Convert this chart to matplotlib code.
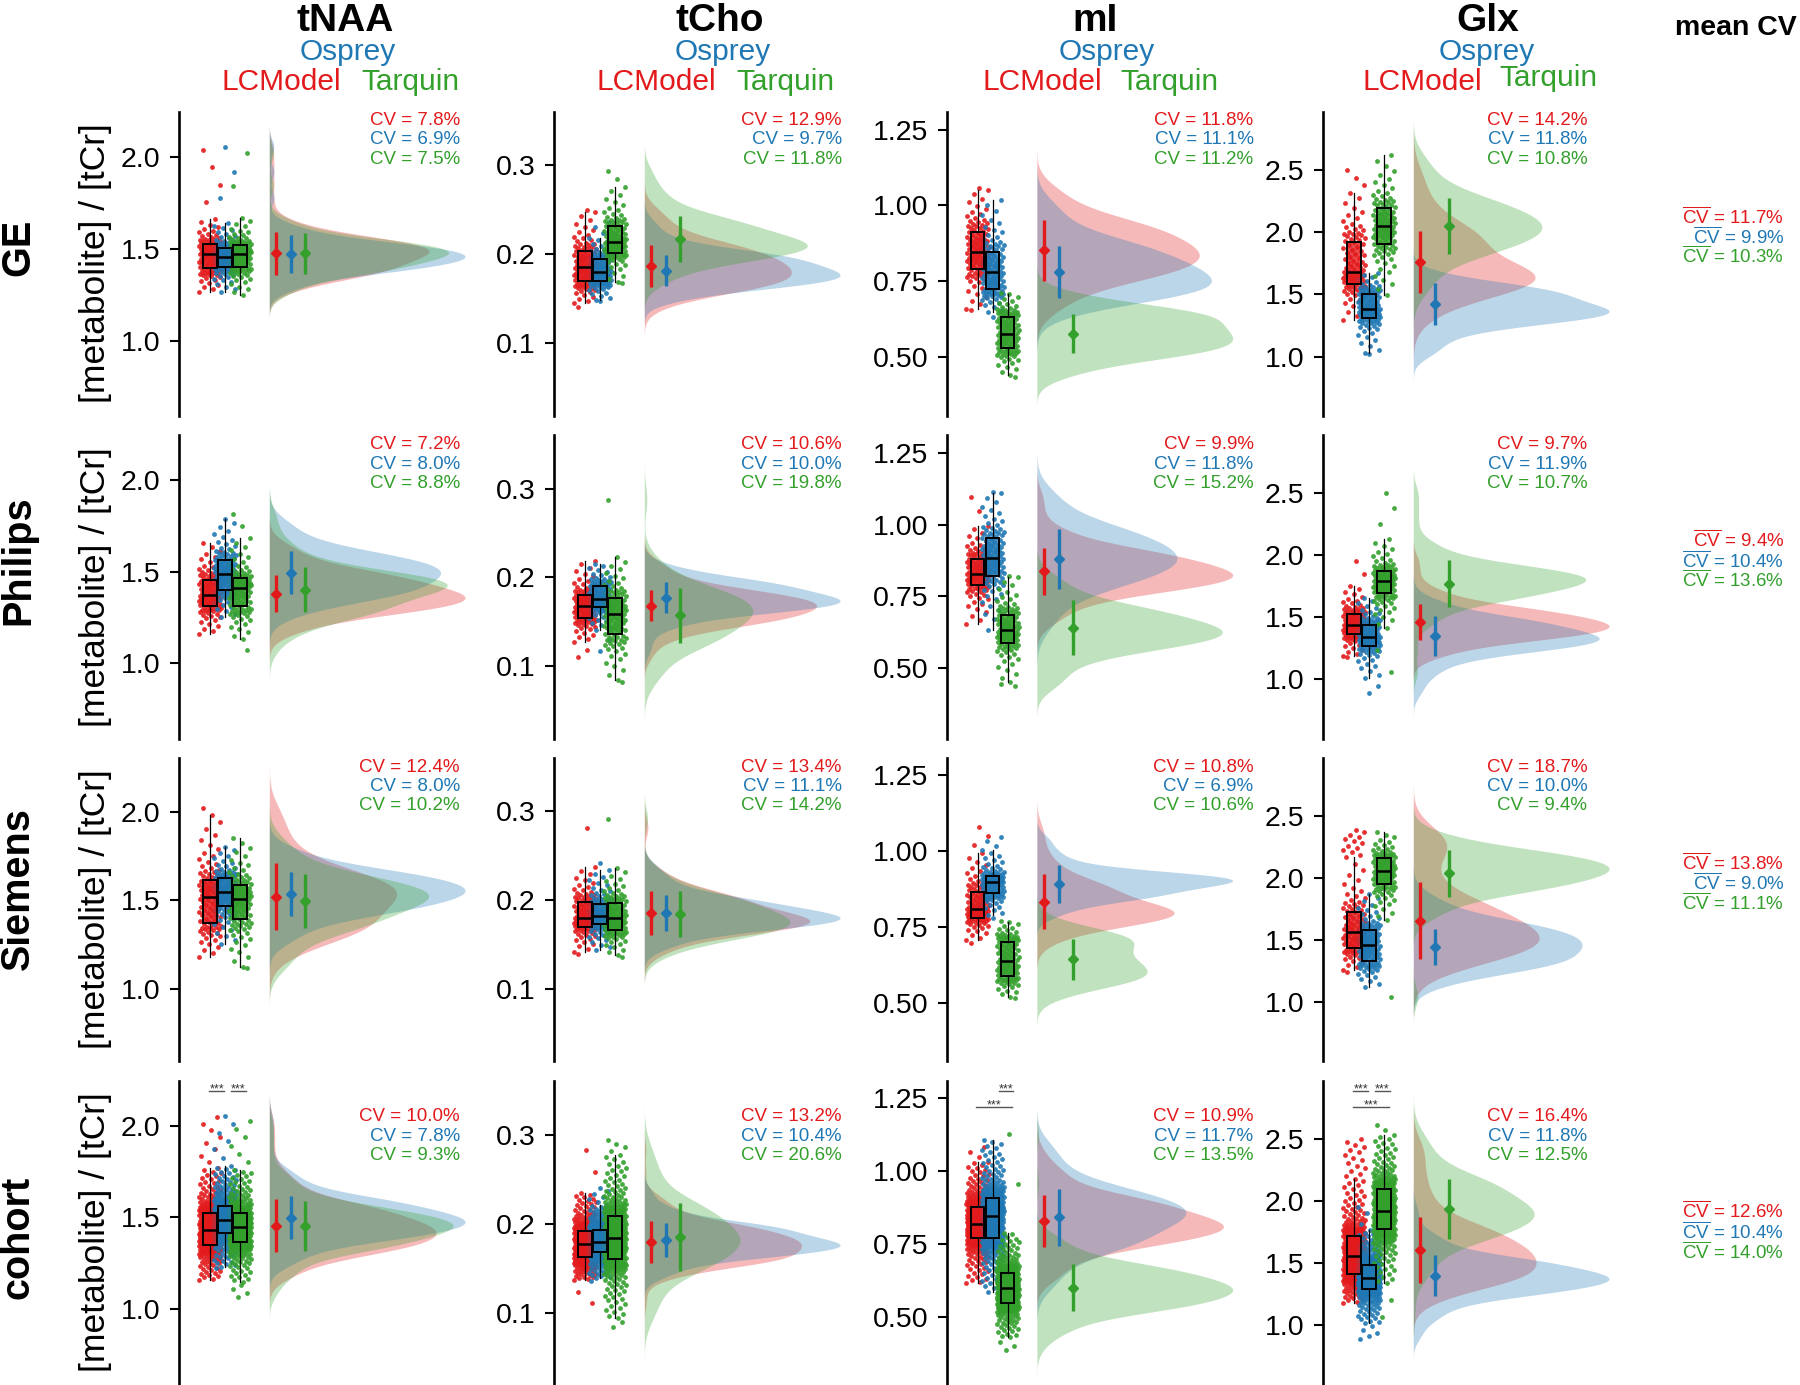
import numpy as np
import matplotlib
matplotlib.use('Agg')
import matplotlib.pyplot as plt

plt.rcParams['font.family'] = ['Liberation Sans', 'DejaVu Sans']
plt.rcParams['mathtext.fontset'] = 'custom'
plt.rcParams['mathtext.rm'] = 'Liberation Sans'
plt.rcParams['mathtext.it'] = 'Liberation Sans:italic'
plt.rcParams['mathtext.bf'] = 'Liberation Sans:bold'

# ---------------- data ----------------
METABOLITES = ['tNAA', 'tCho', 'mI', 'Glx']
VENDORS = ['GE', 'Philips', 'Siemens', 'cohort']
METHODS = ['LCModel', 'Osprey', 'Tarquin']
COLORS = ['#E31A1C', '#1F78B4', '#33A02C']
N_SUBJ = [100, 100, 100, 300]

# all arrays: [metabolite][vendor][method]
CV = [
    [[7.8, 6.9, 7.5], [7.2, 8.0, 8.8], [12.4, 8.0, 10.2], [10.0, 7.8, 9.3]],
    [[12.9, 9.7, 11.8], [10.6, 10.0, 19.8], [13.4, 11.1, 14.2], [13.2, 10.4, 20.6]],
    [[11.8, 11.1, 11.2], [9.9, 11.8, 15.2], [10.8, 6.9, 10.6], [10.9, 11.7, 13.5]],
    [[14.2, 11.8, 10.8], [9.7, 11.9, 10.7], [18.7, 10.0, 9.4], [16.4, 11.8, 12.5]],
]
MEAN = [
    [[1.477, 1.473, 1.477], [1.380, 1.495, 1.402], [1.521, 1.536, 1.497], [1.455, 1.498, 1.455]],
    [[0.186, 0.181, 0.2165], [0.168, 0.177, 0.157], [0.185, 0.185, 0.184], [0.1793, 0.182, 0.185]],
    [[0.852, 0.780, 0.576], [0.837, 0.880, 0.640], [0.833, 0.891, 0.643], [0.828, 0.841, 0.600]],
    [[1.757, 1.421, 2.050], [1.460, 1.345, 1.770], [1.653, 1.443, 2.035], [1.605, 1.398, 1.936]],
]
MEDIAN = [
    [[1.473, 1.458, 1.471], [1.375, 1.489, 1.411], [1.518, 1.549, 1.508], [1.431, 1.486, 1.449]],
    [[0.185, 0.180, 0.2127], [0.1677, 0.176, 0.1583], [0.180, 0.182, 0.1793], [0.1774, 0.1793, 0.1839]],
    [[0.846, 0.780, 0.576], [0.829, 0.884, 0.630], [0.808, 0.897, 0.638], [0.818, 0.846, 0.597]],
    [[1.684, 1.383, 2.047], [1.440, 1.340, 1.790], [1.564, 1.457, 2.056], [1.559, 1.382, 1.920]],
]
Q1 = [
    [[1.395, 1.404, 1.404], [1.311, 1.402, 1.311], [1.375, 1.469, 1.396], [1.350, 1.417, 1.368]],
    [[0.1688, 0.169, 0.2008], [0.1541, 0.1665, 0.1354], [0.170, 0.1725, 0.166], [0.1625, 0.1688, 0.1606]],
    [[0.789, 0.724, 0.527], [0.788, 0.821, 0.587], [0.780, 0.860, 0.588], [0.769, 0.771, 0.548]],
    [[1.585, 1.308, 1.907], [1.364, 1.265, 1.690], [1.435, 1.328, 1.946], [1.412, 1.290, 1.772]],
]
Q3 = [
    [[1.527, 1.509, 1.522], [1.456, 1.565, 1.466], [1.615, 1.625, 1.587], [1.522, 1.564, 1.522]],
    [[0.2026, 0.194, 0.2307], [0.1797, 0.1898, 0.1767], [0.198, 0.1954, 0.1968], [0.1924, 0.1932, 0.2093]],
    [[0.912, 0.846, 0.631], [0.881, 0.952, 0.684], [0.866, 0.917, 0.701], [0.877, 0.908, 0.649]],
    [[1.918, 1.502, 2.195], [1.528, 1.440, 1.870], [1.726, 1.578, 2.156], [1.720, 1.484, 2.095]],
]
WHISK_LO = [
    [[1.268, 1.268, 1.250], [1.158, 1.252, 1.130], [1.183, 1.255, 1.127], [1.159, 1.232, 1.150]],
    [[0.1444, 0.148, 0.168], [0.127, 0.1403, 0.084], [0.1417, 0.1436, 0.138], [0.137, 0.1388, 0.0938]],
    [[0.658, 0.647, 0.439], [0.652, 0.630, 0.450], [0.706, 0.789, 0.520], [0.614, 0.585, 0.429]],
    [[1.295, 1.026, 1.496], [1.184, 1.010, 1.413], [1.255, 1.121, 1.659], [1.180, 1.014, 1.337]],
]
WHISK_HI = [
    [[1.663, 1.643, 1.667], [1.656, 1.788, 1.683], [1.981, 1.803, 1.850], [1.767, 1.780, 1.758]],
    [[0.247, 0.2177, 0.275], [0.219, 0.2154, 0.2228], [0.2367, 0.2337, 0.2355], [0.2345, 0.2214, 0.2777]],
    [[1.052, 1.019, 0.707], [0.996, 1.111, 0.816], [0.992, 1.003, 0.767], [1.032, 1.106, 0.788]],
    [[2.316, 1.671, 2.617], [1.749, 1.655, 2.125], [2.169, 1.868, 2.371], [2.178, 1.766, 2.533]],
]
PT_MIN = [
    [[1.268, 1.268, 1.245], [1.155, 1.250, 1.070], [1.180, 1.255, 1.118], [1.159, 1.225, 1.068]],
    [[0.1406, 0.147, 0.167], [0.1096, 0.117, 0.082], [0.1386, 0.1436, 0.136], [0.1107, 0.136, 0.0843]],
    [[0.653, 0.631, 0.434], [0.652, 0.630, 0.435], [0.698, 0.780, 0.515], [0.614, 0.585, 0.385]],
    [[1.295, 1.020, 1.496], [1.180, 0.890, 1.060], [1.240, 1.121, 1.040], [1.180, 0.885, 1.062]],
]
PT_MAX = [
    [[2.040, 2.056, 2.023], [1.656, 1.800, 1.814], [2.019, 1.803, 1.855], [2.045, 2.052, 2.025]],
    [[0.249, 0.236, 0.2934], [0.219, 0.2154, 0.2878], [0.2812, 0.241, 0.291], [0.2833, 0.2402, 0.2946]],
    [[1.057, 1.020, 0.710], [1.098, 1.115, 0.820], [1.078, 1.047, 0.770], [1.081, 1.106, 1.126]],
    [[2.499, 1.671, 2.617], [1.950, 1.655, 2.500], [2.384, 1.868, 2.371], [2.498, 1.954, 2.613]],
]
# estimated numbers of points beyond the whiskers
N_OUT_LO = [
    [[0, 0, 0], [0, 0, 1], [0, 0, 1], [0, 1, 4]],
    [[1, 1, 1], [2, 2, 1], [1, 0, 1], [2, 1, 2]],
    [[1, 1, 1], [0, 0, 2], [1, 1, 1], [0, 0, 3]],
    [[0, 1, 0], [1, 2, 2], [1, 0, 1], [0, 5, 2]],
]
N_OUT_HI = [
    [[4, 3, 2], [0, 0, 2], [1, 0, 0], [8, 6, 6]],
    [[1, 3, 2], [0, 0, 1], [1, 1, 1], [2, 6, 4]],
    [[1, 0, 1], [2, 1, 1], [3, 3, 1], [3, 0, 2]],
    [[3, 0, 0], [2, 0, 3], [12, 0, 0], [15, 4, 2]],
]
MEAN_CV = [[11.7, 9.9, 10.3], [9.4, 10.4, 13.6], [13.8, 9.0, 11.1], [12.6, 10.4, 14.0]]
# significance brackets in the cohort row: (group i, group j, level)
SIG_PAIRS = {0: [(0, 1, 0), (1, 2, 0)], 2: [(1, 2, 0), (0, 2, 1)], 3: [(0, 1, 0), (1, 2, 0), (0, 2, 1)]}

# ---------------- layout ----------------
W, H = 1800, 1385
COL_X = [179.3, 554.3, 946.9, 1323.3]
ROW_TOP = [111.5, 435.0, 758.0, 1081.0]
ROW_BOT = [415.5, 738.5, 1061.0, 1384.0]
YLIMS = [
    [(0.595, 2.249), (0.590, 2.245), (0.596, 2.302), (0.593, 2.243)],
    [(0.018, 0.360), (0.0176, 0.361), (0.0186, 0.3597), (0.0197, 0.361)],
    [(0.305, 1.311), (0.252, 1.314), (0.308, 1.306), (0.269, 1.309)],
    [(0.527, 2.970), (0.524, 2.964), (0.522, 2.965), (0.524, 2.968)],
]
YTICKS = [[1.0, 1.5, 2.0], [0.1, 0.2, 0.3], [0.5, 0.75, 1.0, 1.25], [1.0, 1.5, 2.0, 2.5]]
YFMT = ['%.1f', '%.1f', '%.2f', '%.1f']
CV_RIGHT = [460, 841.7, 1253.6, 1587.4]
CV_FIRST = [13.5, 14.5, 13.5, 40.2]
BOX_POS = [2.05, 3.05, 4.05]
PR_POS = [6.45, 7.45, 8.4]
VIOLIN_BASE = 6.0
VIOLIN_MAX = 13.05
X_UNITS = 20.0
UNIT_PX = 15.0
BW_ADJUST = 1.3

HEAD_TITLE_X = [345, 720, 1094.7, 1488]
HEAD_OSP_X = [347.5, 722.5, 1107, 1486.8]
HEAD_LC_X = [281.3, 656.3, 1042, 1422]
HEAD_TQ_X = [410, 785, 1169, 1548]
HEAD_TQ_Y = [90, 90, 90, 86]
ROW_LABEL_Y = [247.5, 559.8, 888.6, 1237]
MEANCV_Y = [[224.5, 244.2, 262.9], [547, 567.6, 587], [869.5, 890.2, 909.7], [1218.5, 1239.2, 1258.7]]


def fx(px):
    return px / W


def fy(py):
    return 1 - py / H


def hermite_quantile(p, knots_v, end_slope=2.8):
    """Monotone cubic through the five box-plot values at p = 0, .25, .5, .75, 1."""
    h = 0.25
    v = np.asarray(knots_v, float)
    d = np.diff(v) / h
    m = np.zeros(5)
    for k in (1, 2, 3):
        a, b = d[k - 1], d[k]
        m[k] = 0.0 if a * b <= 0 else 2.0 / (1.0 / a + 1.0 / b)
    m[0] = end_slope * d[0]
    m[4] = end_slope * d[3]
    for k in range(4):
        if d[k] == 0:
            m[k] = m[k + 1] = 0
            continue
        al, be = m[k] / d[k], m[k + 1] / d[k]
        s = al * al + be * be
        if s > 9:
            t = 3.0 / np.sqrt(s)
            m[k], m[k + 1] = t * al * d[k], t * be * d[k]
    idx = np.clip((p / h).astype(int), 0, 3)
    t = (p - idx * h) / h
    h00 = 2 * t ** 3 - 3 * t ** 2 + 1
    h10 = t ** 3 - 2 * t ** 2 + t
    h01 = -2 * t ** 3 + 3 * t ** 2
    h11 = t ** 3 - t ** 2
    return h00 * v[idx] + h10 * h * m[idx] + h01 * v[idx + 1] + h11 * h * m[idx + 1]


def make_points(mi, vi, k):
    n = N_SUBJ[vi]
    lo_k = N_OUT_LO[mi][vi][k]
    hi_k = N_OUT_HI[mi][vi][k]
    wlo, whi = WHISK_LO[mi][vi][k], WHISK_HI[mi][vi][k]
    m = n - lo_k - hi_k
    p = np.linspace(0, 1, m)
    core = hermite_quantile(p, [wlo, Q1[mi][vi][k], MEDIAN[mi][vi][k], Q3[mi][vi][k], whi])
    hi_vals = np.linspace(whi, PT_MAX[mi][vi][k], hi_k + 1)[1:]
    lo_vals = np.linspace(wlo, PT_MIN[mi][vi][k], lo_k + 1)[1:]
    return np.concatenate([core, hi_vals, lo_vals])


def kde(vals):
    n = len(vals)
    sd = vals.std(ddof=1)
    q75, q25 = np.percentile(vals, [75, 25])
    bw = BW_ADJUST * 0.9 * min(sd, (q75 - q25) / 1.34) * n ** -0.2
    grid = np.linspace(vals.min() - 3 * bw, vals.max() + 3 * bw, 500)
    dens = np.exp(-0.5 * ((grid[:, None] - vals[None, :]) / bw) ** 2).sum(1) / (n * bw * np.sqrt(2 * np.pi))
    return grid, dens


fig = plt.figure(figsize=(18, 13.85), dpi=100)
GOLD = 0.6180339887

for mi in range(4):
    for vi in range(4):
        top, bot = ROW_TOP[vi], ROW_BOT[vi]
        ax = fig.add_axes([fx(COL_X[mi]), fy(bot), X_UNITS * UNIT_PX / W, (bot - top) / H])
        ax.set_xlim(0, X_UNITS)
        ax.set_ylim(*YLIMS[mi][vi])
        for s in ['top', 'right', 'bottom']:
            ax.spines[s].set_visible(False)
        ax.spines['left'].set_linewidth(1.9)
        ax.set_xticks([])
        ax.set_yticks(YTICKS[mi])
        ax.set_yticklabels([YFMT[mi] % t for t in YTICKS[mi]])
        ax.tick_params(axis='y', length=6.5, width=1.5, pad=7, labelsize=20.5)
        ax.patch.set_alpha(0)

        dens_list = []
        for k in range(3):
            pts = make_points(mi, vi, k)
            jit = np.array([(i * GOLD + 0.31 * k) % 1.0 for i in range(len(pts))])
            xs = BOX_POS[k] + 0.75 * (2 * jit - 1)
            ax.scatter(xs, pts, s=12, color=COLORS[k], alpha=0.9, linewidths=0, zorder=2)
            dens_list.append(kde(pts))
        dmax = max(d.max() for _, d in dens_list)
        for k in range(3):
            g, d = dens_list[k]
            ax.fill_betweenx(g, VIOLIN_BASE, VIOLIN_BASE + d / dmax * VIOLIN_MAX,
                             color=COLORS[k], alpha=0.3, linewidth=0, zorder=1)

        stats = []
        for k in range(3):
            stats.append(dict(med=MEDIAN[mi][vi][k], q1=Q1[mi][vi][k], q3=Q3[mi][vi][k],
                              whislo=WHISK_LO[mi][vi][k], whishi=WHISK_HI[mi][vi][k], fliers=[]))
        bp = ax.bxp(stats, positions=BOX_POS, widths=0.88, patch_artist=True, showfliers=False,
                    showcaps=False, manage_ticks=False,
                    boxprops=dict(edgecolor='black', linewidth=1.4),
                    medianprops=dict(color='black', linewidth=1.8),
                    whiskerprops=dict(color='black', linewidth=0.9))
        for k, patch in enumerate(bp['boxes']):
            patch.set_facecolor(matplotlib.colors.to_rgba(COLORS[k], 0.8))
            patch.set_zorder(3)
        for art in bp['medians'] + bp['whiskers']:
            art.set_zorder(3.5)

        for k in range(3):
            mu = MEAN[mi][vi][k]
            sd = CV[mi][vi][k] / 100.0 * mu
            ax.errorbar([PR_POS[k]], [mu], yerr=[[sd], [sd]], fmt='D', color=COLORS[k],
                        markersize=5.5, elinewidth=2.4, capsize=0, zorder=4)

        # CV annotations
        for k in range(3):
            yb = top + CV_FIRST[vi] + 19.5 * k
            fig.text(fx(CV_RIGHT[mi]), fy(yb), 'CV = %.1f%%' % CV[mi][vi][k], color=COLORS[k],
                     fontsize=13.5, ha='right', va='baseline')

        # significance brackets (cohort row)
        if vi == 3 and mi in SIG_PAIRS:
            tr = ax.get_xaxis_transform()
            for (i, j, lvl) in SIG_PAIRS[mi]:
                if j - i == 2:
                    x1, x2 = BOX_POS[i] - 0.1, BOX_POS[j] + 0.3
                elif i == 1:
                    x1, x2 = BOX_POS[i] + 0.4, BOX_POS[j] + 0.38
                else:
                    x1, x2 = BOX_POS[i] - 0.05, BOX_POS[j] - 0.05
                ly = 1 - (9.7 + 16.0 * lvl) / (bot - top)
                ax.plot([x1, x2], [ly, ly], color='#555555', lw=1.0, transform=tr, clip_on=False)
                ax.text((x1 + x2) / 2, ly - 1.6 / (bot - top), '***', fontsize=9, color='#333333',
                        ha='center', va='baseline', transform=tr)

# column headers
for mi in range(4):
    fig.text(fx(HEAD_TITLE_X[mi]), fy(31), METABOLITES[mi], fontsize=28, fontweight='bold',
             ha='center', va='baseline')
    fig.text(fx(HEAD_OSP_X[mi]), fy(59.5), 'Osprey', fontsize=21.5, color=COLORS[1],
             ha='center', va='baseline')
    fig.text(fx(HEAD_LC_X[mi]), fy(89.5), 'LCModel', fontsize=21.5, color=COLORS[0],
             ha='center', va='baseline')
    fig.text(fx(HEAD_TQ_X[mi]), fy(HEAD_TQ_Y[mi]), 'Tarquin', fontsize=21.5, color=COLORS[2],
             ha='center', va='baseline')

fig.text(fx(1735.5), fy(35), 'mean CV', fontsize=20.5, fontweight='bold', ha='center', va='baseline')

# row labels and y labels
for vi in range(4):
    fig.text(fx(18), fy(ROW_LABEL_Y[vi]), VENDORS[vi], fontsize=28.5, fontweight='bold',
             rotation=90, ha='center', va='center')
    fig.text(fx(96), fy((ROW_TOP[vi] + ROW_BOT[vi]) / 2), '[metabolite] / [tCr]', fontsize=25.5,
             rotation=90, ha='center', va='center')
    for k in range(3):
        fig.text(fx(1784.3), fy(MEANCV_Y[vi][k]),
                 r'$\overline{\mathrm{CV}}$ = %.1f%%' % MEAN_CV[vi][k],
                 color=COLORS[k], fontsize=13.5, ha='right', va='baseline')

fig.savefig('out.png', dpi=100)
